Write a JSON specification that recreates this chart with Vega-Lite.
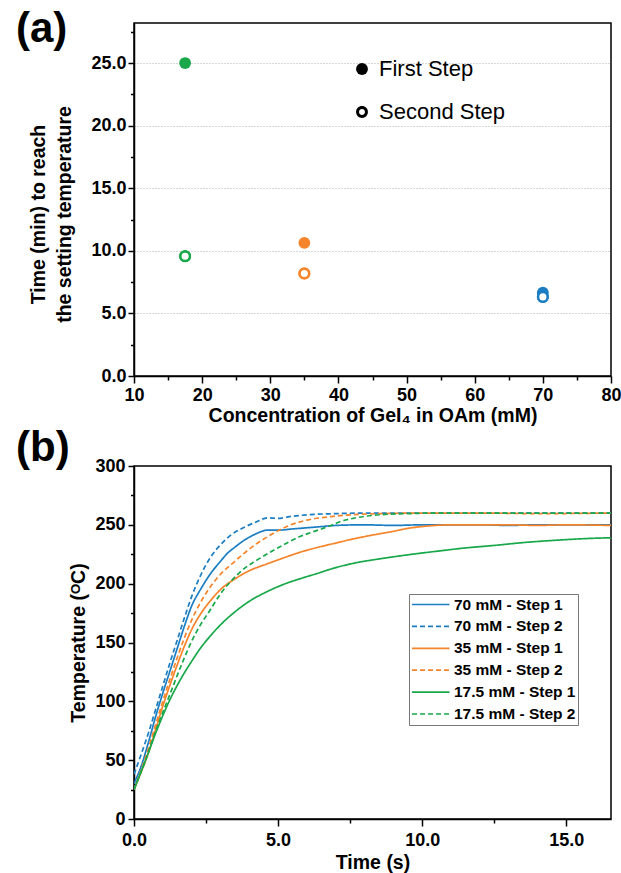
{
  "$schema": "https://vega.github.io/schema/vega-lite/v6.json",
  "background": "white",
  "padding": {"left": 15, "top": 7, "right": 8, "bottom": 0},
  "spacing": 0,
  "config": {
    "font": "Liberation Sans",
    "view": {"stroke": "black", "strokeWidth": 1.5},
    "axis": {
      "domainColor": "black", "domainWidth": 1.5,
      "tickColor": "black", "tickWidth": 1.5,
      "labelFont": "Liberation Sans", "labelFontWeight": "bold", "labelFontSize": 18, "labelColor": "black",
      "titleFont": "Liberation Sans", "titleFontWeight": "bold", "titleFontSize": 19.5, "titleColor": "black",
      "grid": false, "labelFlush": false
    }
  },
  "datasets": {
    "pts": [
      {"conc": 17.5, "time": 25.0, "step": "First Step", "group": "17.5"},
      {"conc": 35, "time": 10.64, "step": "First Step", "group": "35"},
      {"conc": 70, "time": 6.65, "step": "First Step", "group": "70"},
      {"conc": 17.5, "time": 9.57, "step": "Second Step", "group": "17.5"},
      {"conc": 35, "time": 8.19, "step": "Second Step", "group": "35"},
      {"conc": 70, "time": 6.32, "step": "Second Step", "group": "70"}
    ],
    "curves": [
      {"series": "70 mM - Step 1", "t": 0, "T": 30}, {"series": "70 mM - Step 1", "t": 0.25, "T": 45}, {"series": "70 mM - Step 1", "t": 0.5, "T": 65}, {"series": "70 mM - Step 1", "t": 0.75, "T": 87}, {"series": "70 mM - Step 1", "t": 1.0, "T": 107}, {"series": "70 mM - Step 1", "t": 1.25, "T": 126}, {"series": "70 mM - Step 1", "t": 1.5, "T": 145}, {"series": "70 mM - Step 1", "t": 1.75, "T": 164}, {"series": "70 mM - Step 1", "t": 2.0, "T": 181}, {"series": "70 mM - Step 1", "t": 2.33, "T": 196}, {"series": "70 mM - Step 1", "t": 2.67, "T": 209}, {"series": "70 mM - Step 1", "t": 3.0, "T": 219}, {"series": "70 mM - Step 1", "t": 3.25, "T": 226}, {"series": "70 mM - Step 1", "t": 3.5, "T": 231}, {"series": "70 mM - Step 1", "t": 3.83, "T": 237}, {"series": "70 mM - Step 1", "t": 4.2, "T": 242}, {"series": "70 mM - Step 1", "t": 4.64, "T": 245.5}, {"series": "70 mM - Step 1", "t": 5.0, "T": 245.5}, {"series": "70 mM - Step 1", "t": 5.5, "T": 246.5}, {"series": "70 mM - Step 1", "t": 6.0, "T": 247.5}, {"series": "70 mM - Step 1", "t": 6.5, "T": 248.5}, {"series": "70 mM - Step 1", "t": 7.0, "T": 249.5}, {"series": "70 mM - Step 1", "t": 8, "T": 250}, {"series": "70 mM - Step 1", "t": 9, "T": 249.5}, {"series": "70 mM - Step 1", "t": 10, "T": 250}, {"series": "70 mM - Step 1", "t": 11, "T": 250}, {"series": "70 mM - Step 1", "t": 12, "T": 250}, {"series": "70 mM - Step 1", "t": 13, "T": 249.5}, {"series": "70 mM - Step 1", "t": 14, "T": 250}, {"series": "70 mM - Step 1", "t": 15, "T": 250}, {"series": "70 mM - Step 1", "t": 16.55, "T": 250},
      {"series": "70 mM - Step 2", "t": 0, "T": 38}, {"series": "70 mM - Step 2", "t": 0.25, "T": 55}, {"series": "70 mM - Step 2", "t": 0.5, "T": 73}, {"series": "70 mM - Step 2", "t": 0.75, "T": 93}, {"series": "70 mM - Step 2", "t": 1.0, "T": 113}, {"series": "70 mM - Step 2", "t": 1.25, "T": 133}, {"series": "70 mM - Step 2", "t": 1.5, "T": 152}, {"series": "70 mM - Step 2", "t": 1.75, "T": 171}, {"series": "70 mM - Step 2", "t": 2.0, "T": 189}, {"series": "70 mM - Step 2", "t": 2.33, "T": 208}, {"series": "70 mM - Step 2", "t": 2.67, "T": 223}, {"series": "70 mM - Step 2", "t": 3.0, "T": 233}, {"series": "70 mM - Step 2", "t": 3.4, "T": 242}, {"series": "70 mM - Step 2", "t": 3.83, "T": 248}, {"series": "70 mM - Step 2", "t": 4.2, "T": 252}, {"series": "70 mM - Step 2", "t": 4.64, "T": 256}, {"series": "70 mM - Step 2", "t": 5.0, "T": 255.5}, {"series": "70 mM - Step 2", "t": 5.4, "T": 257}, {"series": "70 mM - Step 2", "t": 6.0, "T": 258.5}, {"series": "70 mM - Step 2", "t": 7.0, "T": 259.5}, {"series": "70 mM - Step 2", "t": 8, "T": 260}, {"series": "70 mM - Step 2", "t": 10, "T": 260}, {"series": "70 mM - Step 2", "t": 12, "T": 260}, {"series": "70 mM - Step 2", "t": 14, "T": 260}, {"series": "70 mM - Step 2", "t": 16.55, "T": 260},
      {"series": "35 mM - Step 1", "t": 0, "T": 25}, {"series": "35 mM - Step 1", "t": 0.25, "T": 40}, {"series": "35 mM - Step 1", "t": 0.5, "T": 56}, {"series": "35 mM - Step 1", "t": 0.75, "T": 76}, {"series": "35 mM - Step 1", "t": 1.0, "T": 96}, {"series": "35 mM - Step 1", "t": 1.25, "T": 114}, {"series": "35 mM - Step 1", "t": 1.5, "T": 131}, {"series": "35 mM - Step 1", "t": 1.75, "T": 147}, {"series": "35 mM - Step 1", "t": 2.0, "T": 161}, {"series": "35 mM - Step 1", "t": 2.33, "T": 175}, {"series": "35 mM - Step 1", "t": 2.67, "T": 186}, {"series": "35 mM - Step 1", "t": 3.0, "T": 195}, {"series": "35 mM - Step 1", "t": 3.5, "T": 204}, {"series": "35 mM - Step 1", "t": 4.0, "T": 211}, {"series": "35 mM - Step 1", "t": 4.64, "T": 217}, {"series": "35 mM - Step 1", "t": 5.2, "T": 222}, {"series": "35 mM - Step 1", "t": 5.8, "T": 227}, {"series": "35 mM - Step 1", "t": 6.4, "T": 231}, {"series": "35 mM - Step 1", "t": 7.0, "T": 234.5}, {"series": "35 mM - Step 1", "t": 7.6, "T": 238}, {"series": "35 mM - Step 1", "t": 8.1, "T": 240.5}, {"series": "35 mM - Step 1", "t": 9.0, "T": 244.5}, {"series": "35 mM - Step 1", "t": 9.5, "T": 247}, {"series": "35 mM - Step 1", "t": 10.2, "T": 249}, {"series": "35 mM - Step 1", "t": 11, "T": 250}, {"series": "35 mM - Step 1", "t": 12, "T": 250}, {"series": "35 mM - Step 1", "t": 13, "T": 250}, {"series": "35 mM - Step 1", "t": 14, "T": 249.5}, {"series": "35 mM - Step 1", "t": 15, "T": 250}, {"series": "35 mM - Step 1", "t": 16.55, "T": 249.5},
      {"series": "35 mM - Step 2", "t": 0, "T": 25}, {"series": "35 mM - Step 2", "t": 0.25, "T": 42}, {"series": "35 mM - Step 2", "t": 0.5, "T": 60}, {"series": "35 mM - Step 2", "t": 0.75, "T": 80}, {"series": "35 mM - Step 2", "t": 1.0, "T": 100}, {"series": "35 mM - Step 2", "t": 1.25, "T": 119}, {"series": "35 mM - Step 2", "t": 1.5, "T": 137}, {"series": "35 mM - Step 2", "t": 1.75, "T": 154}, {"series": "35 mM - Step 2", "t": 2.0, "T": 169}, {"series": "35 mM - Step 2", "t": 2.33, "T": 185}, {"series": "35 mM - Step 2", "t": 2.67, "T": 198}, {"series": "35 mM - Step 2", "t": 3.0, "T": 208}, {"series": "35 mM - Step 2", "t": 3.5, "T": 219}, {"series": "35 mM - Step 2", "t": 3.83, "T": 226}, {"series": "35 mM - Step 2", "t": 4.2, "T": 233}, {"series": "35 mM - Step 2", "t": 4.64, "T": 240}, {"series": "35 mM - Step 2", "t": 5.0, "T": 245}, {"series": "35 mM - Step 2", "t": 5.34, "T": 249}, {"series": "35 mM - Step 2", "t": 6.0, "T": 254}, {"series": "35 mM - Step 2", "t": 6.84, "T": 257}, {"series": "35 mM - Step 2", "t": 7.5, "T": 258.5}, {"series": "35 mM - Step 2", "t": 8.5, "T": 259.5}, {"series": "35 mM - Step 2", "t": 10, "T": 260}, {"series": "35 mM - Step 2", "t": 12, "T": 260}, {"series": "35 mM - Step 2", "t": 14, "T": 259.5}, {"series": "35 mM - Step 2", "t": 16.55, "T": 260},
      {"series": "17.5 mM - Step 1", "t": 0, "T": 25}, {"series": "17.5 mM - Step 1", "t": 0.4, "T": 50}, {"series": "17.5 mM - Step 1", "t": 0.8, "T": 76}, {"series": "17.5 mM - Step 1", "t": 1.2, "T": 99}, {"series": "17.5 mM - Step 1", "t": 1.6, "T": 118}, {"series": "17.5 mM - Step 1", "t": 2.0, "T": 134}, {"series": "17.5 mM - Step 1", "t": 2.33, "T": 146}, {"series": "17.5 mM - Step 1", "t": 2.7, "T": 157}, {"series": "17.5 mM - Step 1", "t": 3.0, "T": 165}, {"series": "17.5 mM - Step 1", "t": 3.5, "T": 176}, {"series": "17.5 mM - Step 1", "t": 4.0, "T": 185}, {"series": "17.5 mM - Step 1", "t": 4.64, "T": 193.5}, {"series": "17.5 mM - Step 1", "t": 5.2, "T": 199.5}, {"series": "17.5 mM - Step 1", "t": 5.8, "T": 204.5}, {"series": "17.5 mM - Step 1", "t": 6.4, "T": 209}, {"series": "17.5 mM - Step 1", "t": 6.84, "T": 212.5}, {"series": "17.5 mM - Step 1", "t": 7.65, "T": 217.5}, {"series": "17.5 mM - Step 1", "t": 8.5, "T": 221}, {"series": "17.5 mM - Step 1", "t": 9.5, "T": 224.5}, {"series": "17.5 mM - Step 1", "t": 10.66, "T": 228}, {"series": "17.5 mM - Step 1", "t": 11.35, "T": 230}, {"series": "17.5 mM - Step 1", "t": 12.5, "T": 232.5}, {"series": "17.5 mM - Step 1", "t": 13.55, "T": 235}, {"series": "17.5 mM - Step 1", "t": 14.7, "T": 237}, {"series": "17.5 mM - Step 1", "t": 15.87, "T": 238.5}, {"series": "17.5 mM - Step 1", "t": 16.55, "T": 239},
      {"series": "17.5 mM - Step 2", "t": 0, "T": 25}, {"series": "17.5 mM - Step 2", "t": 0.4, "T": 50}, {"series": "17.5 mM - Step 2", "t": 0.8, "T": 78}, {"series": "17.5 mM - Step 2", "t": 1.2, "T": 103}, {"series": "17.5 mM - Step 2", "t": 1.68, "T": 133}, {"series": "17.5 mM - Step 2", "t": 2.0, "T": 151}, {"series": "17.5 mM - Step 2", "t": 2.33, "T": 166}, {"series": "17.5 mM - Step 2", "t": 2.6, "T": 176}, {"series": "17.5 mM - Step 2", "t": 3.02, "T": 192}, {"series": "17.5 mM - Step 2", "t": 3.4, "T": 203}, {"series": "17.5 mM - Step 2", "t": 3.83, "T": 213}, {"series": "17.5 mM - Step 2", "t": 4.2, "T": 219}, {"series": "17.5 mM - Step 2", "t": 4.64, "T": 225.5}, {"series": "17.5 mM - Step 2", "t": 5.34, "T": 235}, {"series": "17.5 mM - Step 2", "t": 5.8, "T": 240.5}, {"series": "17.5 mM - Step 2", "t": 6.03, "T": 242.5}, {"series": "17.5 mM - Step 2", "t": 6.5, "T": 246.5}, {"series": "17.5 mM - Step 2", "t": 6.84, "T": 249.5}, {"series": "17.5 mM - Step 2", "t": 7.19, "T": 253}, {"series": "17.5 mM - Step 2", "t": 7.6, "T": 255.5}, {"series": "17.5 mM - Step 2", "t": 8.1, "T": 257.5}, {"series": "17.5 mM - Step 2", "t": 8.8, "T": 259}, {"series": "17.5 mM - Step 2", "t": 9.5, "T": 259.5}, {"series": "17.5 mM - Step 2", "t": 10.5, "T": 260}, {"series": "17.5 mM - Step 2", "t": 12, "T": 260}, {"series": "17.5 mM - Step 2", "t": 14, "T": 260}, {"series": "17.5 mM - Step 2", "t": 16.55, "T": 260}
    ]
  },
  "vconcat": [
    {
      "width": 477,
      "height": 353,
      "title": {"text": "(a)", "anchor": "start", "frame": "group", "orient": "top", "fontSize": 42, "fontWeight": "bold", "font": "Liberation Sans", "color": "black", "dx": -118, "offset": -28, "baseline": "top"},
      "data": {"name": "pts"},
      "encoding": {
        "x": {"field": "conc", "type": "quantitative", "scale": {"domain": [10, 80], "nice": false, "zero": false},
          "axis": {"title": "Concentration of GeI₄ in OAm (mM)", "values": [10, 15, 20, 25, 30, 35, 40, 45, 50, 55, 60, 65, 70, 75, 80],
            "labelExpr": "datum.value % 10 === 0 ? format(datum.value, 'd') : ''",
            "tickSize": {"condition": {"test": "datum.value % 10 === 0", "value": 7}, "value": 4},
            "labelPadding": 3, "titlePadding": 2}},
        "y": {"field": "time", "type": "quantitative", "scale": {"domain": [0, 28.2], "nice": false},
          "axis": {"title": ["Time (min) to reach", "the setting temperature"], "titleLineHeight": 26, "titleY": 191,
            "values": [0, 2.5, 5, 7.5, 10, 12.5, 15, 17.5, 20, 22.5, 25, 27.5],
            "labelExpr": "datum.value % 5 === 0 ? format(datum.value, '.1f') : ''",
            "tickSize": {"condition": {"test": "datum.value % 5 === 0", "value": 6}, "value": 3.5},
            "grid": true, "gridDash": [1, 2], "gridColor": "#b0b0b0", "gridWidth": 1,
            "gridOpacity": {"condition": {"test": "datum.value % 5 === 0 && datum.value > 0", "value": 1}, "value": 0},
            "labelPadding": 2, "titlePadding": 16}}
      },
      "layer": [
        {
          "mark": {"type": "point", "filled": true, "size": 140, "opacity": 1, "strokeWidth": 0},
          "encoding": {
            "fill": {"field": "group", "type": "nominal", "scale": {"domain": ["17.5", "35", "70"], "range": ["#18a84a", "#f5842a", "#1b7dc2"]}, "legend": null},
            "shape": {"field": "step", "type": "nominal",
              "scale": {"domain": ["First Step", "Second Step"], "range": ["circle", "M-1,0A1,1,0,1,0,1,0A1,1,0,1,0,-1,0ZM-0.5,0A0.5,0.5,0,1,1,0.5,0A0.5,0.5,0,1,1,-0.5,0Z"]},
              "legend": {"title": null, "orient": "none", "legendX": 217, "legendY": 35, "symbolSize": 140,
                "symbolFillColor": "black", "symbolStrokeColor": "black", "symbolStrokeWidth": 0,
                "labelFontSize": 22, "labelFont": "Liberation Sans", "labelFontWeight": "normal", "labelColor": "black",
                "labelOffset": 6, "rowPadding": 21, "padding": 0}}
          }
        },
        {
          "transform": [{"filter": "datum.step === 'Second Step'"}],
          "mark": {"type": "circle", "size": 92, "strokeWidth": 2.5, "fill": "white", "fillOpacity": 1, "opacity": 1},
          "encoding": {
            "stroke": {"field": "group", "type": "nominal", "scale": {"domain": ["17.5", "35", "70"], "range": ["#18a84a", "#f5842a", "#1b7dc2"]}, "legend": null}
          }
        }
      ]
    },
    {
      "width": 477,
      "height": 353,
      "title": {"text": "(b)", "anchor": "start", "frame": "group", "orient": "top", "fontSize": 42, "fontWeight": "bold", "font": "Liberation Sans", "color": "black", "dx": -118, "offset": -13, "baseline": "top"},
      "data": {"name": "curves"},
      "mark": {"type": "line", "strokeWidth": 1.7, "interpolate": "monotone", "clip": true},
      "encoding": {
        "x": {"field": "t", "type": "quantitative", "scale": {"domain": [0, 16.55], "nice": false},
          "axis": {"title": "Time (s)", "values": [0, 2.5, 5, 7.5, 10, 12.5, 15],
            "labelExpr": "datum.value % 5 === 0 ? format(datum.value, '.1f') : ''",
            "tickSize": {"condition": {"test": "datum.value % 5 === 0", "value": 7}, "value": 4},
            "labelPadding": 5, "titlePadding": 4}},
        "y": {"field": "T", "type": "quantitative", "scale": {"domain": [0, 300], "nice": false},
          "axis": {"title": "Temperature (ᴼC)", "values": [0, 25, 50, 75, 100, 125, 150, 175, 200, 225, 250, 275, 300],
            "labelExpr": "datum.value % 50 === 0 ? format(datum.value, 'd') : ''",
            "tickSize": {"condition": {"test": "datum.value % 50 === 0", "value": 6}, "value": 3.5},
            "labelPadding": 3, "titlePadding": 6}},
        "color": {"field": "series", "type": "nominal",
          "scale": {"domain": ["70 mM - Step 1", "70 mM - Step 2", "35 mM - Step 1", "35 mM - Step 2", "17.5 mM - Step 1", "17.5 mM - Step 2"],
            "range": ["#1b7dc2", "#1b7dc2", "#f5842a", "#f5842a", "#18a84a", "#18a84a"]},
          "legend": {"title": null, "orient": "none", "legendX": 275, "legendY": 571, "symbolType": "M-1,0H4", "symbolSize": 225,
            "symbolStrokeWidth": 1.7, "labelFontSize": 15.5, "labelFont": "Liberation Sans", "labelFontWeight": "bold", "labelColor": "black",
            "labelOffset": 26, "rowPadding": 4.9, "padding": 2, "strokeColor": "#777777", "fillColor": "white", "labelLimit": 300}},
        "strokeDash": {"field": "series", "type": "nominal",
          "scale": {"domain": ["70 mM - Step 1", "70 mM - Step 2", "35 mM - Step 1", "35 mM - Step 2", "17.5 mM - Step 1", "17.5 mM - Step 2"],
            "range": [[1, 0], [5, 3], [1, 0], [5, 3], [1, 0], [5, 3]]},
          "legend": {"title": null, "orient": "none", "legendX": 275, "legendY": 571, "symbolType": "M-1,0H4", "symbolSize": 225,
            "symbolStrokeWidth": 1.7, "labelFontSize": 15.5, "labelFont": "Liberation Sans", "labelFontWeight": "bold", "labelColor": "black",
            "labelOffset": 26, "rowPadding": 4.9, "padding": 2, "strokeColor": "#777777", "fillColor": "white", "labelLimit": 300}}
      }
    }
  ]
}
